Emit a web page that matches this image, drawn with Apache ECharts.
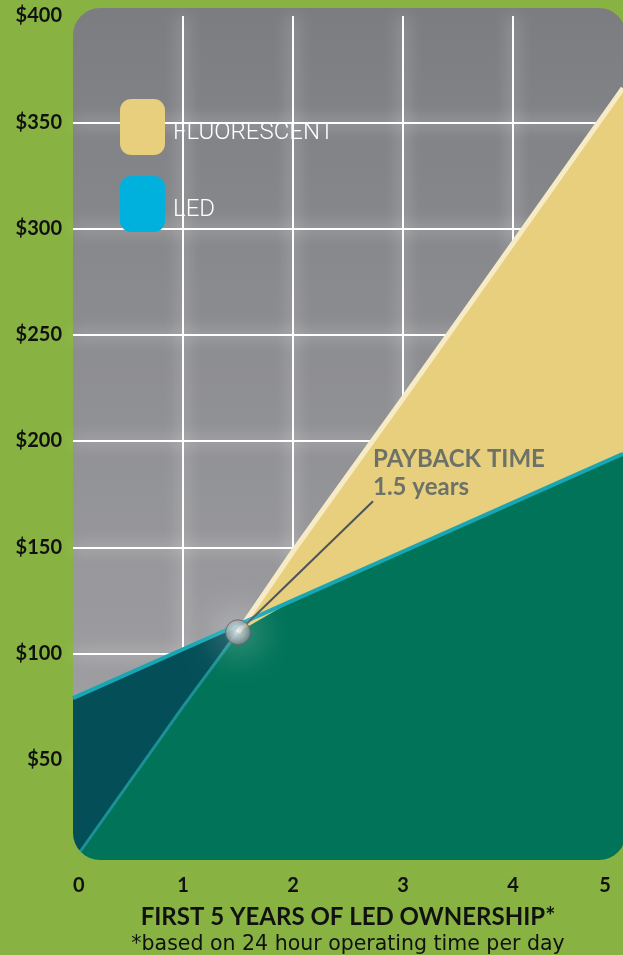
<!DOCTYPE html>
<html>
<head>
<meta charset="utf-8">
<script src="https://cdn.jsdelivr.net/npm/echarts@6/dist/echarts.min.js"></script>
<style>
  html, body { margin: 0; padding: 0; background: #88b342; }
  #main { width: 623px; height: 955px; }
</style>
</head>
<body>
<div id="main"></div>
<script>
// data
const years = [0, 1, 2, 3, 4, 5];
const fluorescentCost = [2, 75, 148, 220, 293, 366];
const ledCost = [79, 102, 125, 148, 171, 194];
const payback = [1.5, 110];
const yTicks = [50, 100, 150, 200, 250, 300, 350, 400];

const fluorPts = years.map((y, i) => [y, fluorescentCost[i]]);
const ledPts = years.map((y, i) => [y, ledCost[i]]);
// lower envelope: fluorescent before payback, LED after
const greenPts = fluorPts.filter(p => p[0] < payback[0])
  .concat([payback])
  .concat(ledPts.filter(p => p[0] > payback[0]));
const fluorLow = fluorPts.filter(p => p[0] < payback[0]).concat([payback]);
const fluorHigh = [payback].concat(fluorPts.filter(p => p[0] > payback[0]));

// green mask for a rounded panel corner (corner point, circle centre, radius)
function cornerMask(px, py, cx, cy, r) {
  const pts = [[px, py]];
  const a0 = Math.atan2(py - cy, px - cx);
  for (let k = -4; k <= 4; k++) {
    const a = a0 + k * Math.PI / 16;
    pts.push([cx + r * Math.cos(a), cy + r * Math.sin(a)]);
  }
  return pts;
}

const myChart = echarts.init(document.getElementById('main'));

const glow = {
  color: '#ffffff',
  width: 2,
  shadowBlur: 16,
  shadowColor: 'rgba(255,255,255,1)'
};
const tickFont = { color: '#111', fontFamily: 'Lato', fontWeight: 'bold', fontSize: 20 };

const option = {
  backgroundColor: '#88b342',
  animation: false,
  grid: { left: 73, right: 0, top: 16, bottom: 89, outerBoundsMode: 'none' },
  legend: {
    orient: 'vertical',
    left: 120,
    top: 99,
    padding: 0,
    itemWidth: 45,
    itemHeight: 56,
    itemGap: 21,
    selectedMode: false,
    formatter: '{t|{name}}',
    textStyle: {
      color: '#ffffff',
      rich: {
        t: {
          color: '#ffffff',
          fontFamily: 'Roboto',
          fontWeight: 300,
          fontSize: 24,
          padding: [12, 0, 0, 3]
        }
      }
    },
    data: [
      { name: 'FLUORESCENT', icon: 'roundRect', itemStyle: { color: '#e7cf7d' } },
      { name: 'LED', icon: 'roundRect', itemStyle: { color: '#00b1de' } }
    ]
  },
  xAxis: {
    type: 'value',
    min: 0,
    max: 5,
    interval: 1,
    axisLine: { show: false },
    axisTick: { show: false },
    axisLabel: Object.assign({
      margin: 10,
      alignMinLabel: 'left',
      formatter: v => v === 5 ? '{r|5}' : String(v),
      rich: { r: Object.assign({ padding: [0, 36, 0, 0] }, tickFont) }
    }, tickFont),
    splitLine: { show: true, showMinLine: false, showMaxLine: false, lineStyle: glow },
    name: '{a|FIRST 5 YEARS OF LED OWNERSHIP*}\n{b|*based on 24 hour operating time per day}',
    nameLocation: 'middle',
    nameGap: 37,
    nameTextStyle: {
      rich: {
        a: { fontFamily: 'Lato', fontWeight: 'bold', fontSize: 24, color: '#111', lineHeight: 29 },
        b: { fontFamily: 'DejaVu Sans', fontSize: 20.5, color: '#111', lineHeight: 25 }
      }
    }
  },
  yAxis: {
    type: 'value',
    min: 0,
    max: 400,
    interval: 50,
    axisLine: { show: false },
    axisTick: { show: false },
    axisLabel: Object.assign({
      margin: 11,
      showMinLabel: false,
      formatter: v => yTicks.includes(v) ? '$' + v : ''
    }, tickFont),
    splitLine: { show: true, showMinLine: false, showMaxLine: false, lineStyle: glow }
  },
  graphic: [
    {
      type: 'rect',
      z: -10,
      silent: true,
      shape: { x: 73, y: 8, width: 553, height: 852, r: 27 },
      style: {
        fill: new echarts.graphic.LinearGradient(0, 0, 0, 1, [
          { offset: 0, color: '#7c7d81' },
          { offset: 1, color: '#a6a6a9' }
        ])
      }
    },
    // mask the plot below the panel and at its rounded bottom corners
    {
      type: 'rect', z: 100, silent: true,
      shape: { x: 60, y: 860, width: 570, height: 12 },
      style: { fill: '#88b342' }
    },
    {
      type: 'polygon', z: 100, silent: true,
      shape: { points: cornerMask(72, 861, 100, 833, 27) },
      style: { fill: '#88b342' }
    },
    {
      type: 'polygon', z: 100, silent: true,
      shape: { points: cornerMask(627, 861, 599, 833, 27) },
      style: { fill: '#88b342' }
    }
  ],
  series: [
    {
      name: 'LED',
      type: 'line',
      data: ledPts,
      showSymbol: false,
      lineStyle: { width: 0 },
      areaStyle: { color: '#034e57', opacity: 1 },
      z: 2
    },
    {
      name: 'FLUORESCENT',
      type: 'line',
      data: fluorPts,
      showSymbol: false,
      lineStyle: { width: 0 },
      areaStyle: { color: '#e7cf7d', opacity: 1 },
      z: 3
    },
    {
      name: 'lower',
      type: 'line',
      data: greenPts,
      showSymbol: false,
      lineStyle: { width: 0 },
      areaStyle: { color: '#007358', opacity: 1 },
      z: 4
    },
    {
      name: 'fluorLow',
      type: 'line',
      data: fluorLow,
      showSymbol: false,
      lineStyle: { width: 3, color: '#1b9096' },
      z: 5
    },
    {
      name: 'fluorHigh',
      type: 'line',
      data: fluorHigh,
      showSymbol: false,
      lineStyle: { width: 5, color: '#f6ebc5' },
      z: 5
    },
    {
      name: 'ledLine',
      type: 'line',
      data: ledPts,
      showSymbol: false,
      lineStyle: { width: 4, color: '#17a7b4' },
      z: 6
    },
    {
      name: 'payback',
      type: 'scatter',
      data: [payback],
      symbolSize: 25,
      z: 10,
      itemStyle: {
        color: new echarts.graphic.RadialGradient(0.45, 0.45, 0.6, [
          { offset: 0, color: '#f4f6f8' },
          { offset: 0.55, color: '#b3b7bc' },
          { offset: 1, color: '#6d7278' }
        ]),
        borderColor: '#5d6268',
        borderWidth: 1,
        shadowBlur: 40,
        shadowColor: 'rgba(255,255,255,1)'
      },
      label: {
        show: true,
        position: 'right',
        // two blank lines so the guide line meets the label near "1.5"
        formatter: 'PAYBACK TIME\n' + payback[0] + ' years\n \n ',
        color: '#4e5a61',
        fontFamily: 'Lato',
        fontWeight: 'bold',
        fontSize: 24,
        lineHeight: 28
      },
      labelLayout: { dx: 117, dy: -131 },
      labelLine: {
        show: true,
        lineStyle: { color: '#4a5359', width: 2 }
      }
    }
  ]
};

option && myChart.setOption(option);
</script>
</body>
</html>
